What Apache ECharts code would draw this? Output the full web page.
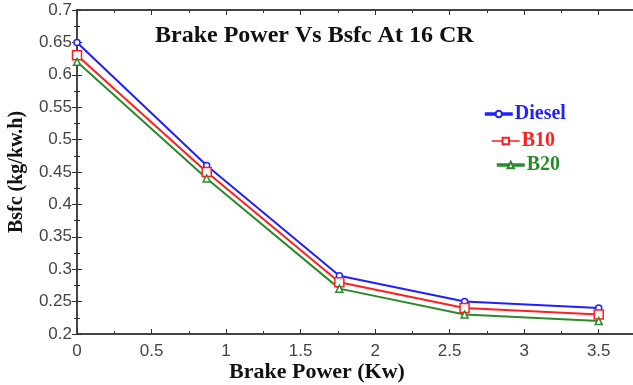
<!DOCTYPE html>
<html>
<head>
<meta charset="utf-8">
<script src="https://cdn.jsdelivr.net/npm/echarts@6/dist/echarts.min.js"></script>
<style>
  html, body { margin: 0; padding: 0; background: #fff; }
  #chart { width: 633px; height: 385px; }
</style>
</head>
<body>
<div id="chart"></div>
<script>
// brake power (kW)
var power = [0, 0.87, 1.76, 2.6, 3.5];
var diesel = [0.65, 0.46, 0.29, 0.25, 0.24];
var b10 = [0.63, 0.45, 0.28, 0.24, 0.23];
var b20 = [0.62, 0.44, 0.27, 0.23, 0.22];

var seriesNames = ['Diesel', 'B10', 'B20'];
var seriesColors = ['#1f1fff', '#ff1f1f', '#2b8a2b'];

function pairs(xs, ys) {
  return xs.map(function (x, i) { return [x, ys[i]]; });
}

var chart = echarts.init(document.getElementById('chart'));

var axisCommon = {
  axisLine: { show: true, lineStyle: { color: '#444', width: 2 } },
  axisTick: { inside: true, length: 5, lineStyle: { color: '#333' } },
  minorTick: { show: true, splitNumber: 2, length: 3, lineStyle: { color: '#333' } },
  splitLine: { show: false },
  minorSplitLine: { show: false }
};

function lineSeries(idx, data, symbol, size) {
  return {
    name: seriesNames[idx],
    type: 'line',
    data: pairs(power, data),
    symbol: symbol,
    symbolSize: size,
    showAllSymbol: true,
    lineStyle: { color: seriesColors[idx], width: 2 },
    itemStyle: { color: '#fff', borderColor: seriesColors[idx], borderWidth: 1.5 }
  };
}

// one legend block per series, as they sit slightly offset in the original
var legendSpots = [[478, 99], [486, 126], [490, 150]];
var legendLineWidth = [3.5, 1.5, 3.5];

chart.setOption({
  animation: false,
  backgroundColor: '#fff',
  title: {
    text: 'Brake Power Vs Bsfc At 16 CR',
    left: 150,
    top: 19,
    textStyle: { fontFamily: 'Liberation Serif', fontWeight: 'bold', fontSize: 24, color: '#111' }
  },
  legend: seriesNames.map(function (n, i) {
    return {
      left: legendSpots[i][0],
      top: legendSpots[i][1],
      itemWidth: 28,
      itemHeight: 8,
      itemGap: 2,
      lineStyle: { width: legendLineWidth[i] },
      data: [{
        name: n,
        textStyle: { color: seriesColors[i], fontFamily: 'Liberation Serif', fontWeight: 'bold', fontSize: 20, padding: [0, 0, 0, -3] }
      }]
    };
  }),
  grid: { left: 77, right: -3, top: 10, bottom: 51, outerBoundsMode: 'none' },
  xAxis: [
    Object.assign({}, axisCommon, {
      type: 'value', min: 0, max: 3.75, interval: 0.5,
      axisLabel: { color: '#444', fontFamily: 'Liberation Sans', fontSize: 17, margin: 9,
        formatter: function (v) { return v > 3.6 ? '' : String(v); } }
    }),
    Object.assign({}, axisCommon, {
      type: 'value', min: 0, max: 3.75, interval: 0.5, position: 'top',
      axisLabel: { show: false }
    })
  ],
  yAxis: [
    Object.assign({}, axisCommon, {
      type: 'value', min: 0.2, max: 0.7, interval: 0.05,
      name: 'Bsfc (kg/kw.h)',
      nameLocation: 'middle',
      nameGap: 50,
      nameTextStyle: { fontFamily: 'Liberation Serif', fontWeight: 'bold', fontSize: 20, color: '#111' },
      axisLabel: { color: '#444', fontFamily: 'Liberation Sans', fontSize: 17, margin: 5,
        formatter: function (v) { return String(+v.toFixed(2)); } }
    }),
    Object.assign({}, axisCommon, {
      type: 'value', min: 0.2, max: 0.7, interval: 0.05, position: 'right',
      axisLabel: { show: false }
    })
  ],
  graphic: [{
    type: 'text',
    left: 229,
    top: 361,
    style: { text: 'Brake Power (Kw)', font: 'bold 22px "Liberation Serif"', fill: '#111' }
  }],
  series: [
    lineSeries(0, diesel, 'circle', 6),
    lineSeries(1, b10, 'rect', 9),
    lineSeries(2, b20, 'triangle', 7)
  ]
});
</script>
</body>
</html>
